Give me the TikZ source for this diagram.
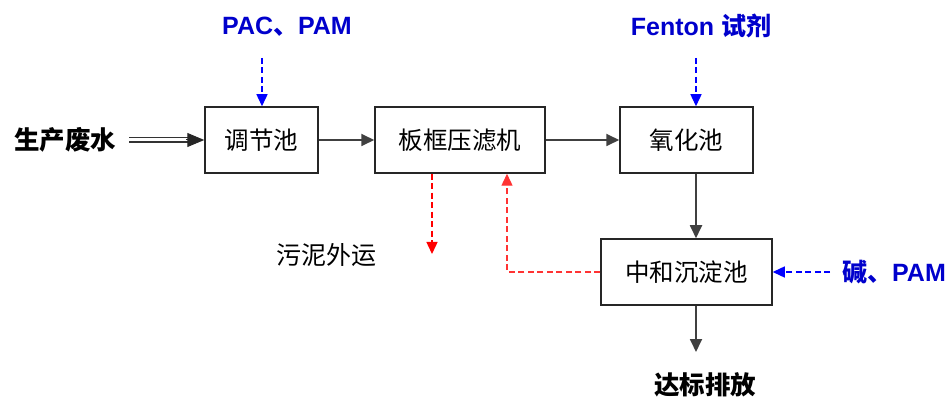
\documentclass[tikz,border=0pt]{standalone}
\usepackage{fontspec}
\setmainfont{Liberation Sans}
\newfontfamily\cjk{Noto Sans CJK SC}
\usetikzlibrary{arrows.meta,calc}
\begin{document}
\begin{tikzpicture}[x=1pt,y=-1pt,
  box/.style={draw=black!85, line width=1.5pt, minimum width=#1, minimum height=66pt, inner sep=0pt, font=\cjk\fontsize{24.5}{25}\selectfont},
  blab/.style={text=blue!80!black, font=\bfseries\fontsize{25}{25}\selectfont},
  klab/.style={text=black, font=\cjk\bfseries\fontsize{25.5}{26}\selectfont},
  flow/.style={draw=black!75, line width=1.8pt, -{Triangle[length=13pt,width=12pt]}},
  bdash/.style={draw=blue, line width=1.4pt, dashed, dash pattern=on 6pt off 3.5pt, -{Triangle[length=12pt,width=11pt]}},
  rdash/.style={draw=red, line width=1.4pt, dashed, dash pattern=on 6pt off 3.5pt, -{Triangle[length=12pt,width=11pt]}}
]
\useasboundingbox (0,0) rectangle (951,398);
\node[box=113pt] (tj) at (261.5,140) {调节池};
\node[box=170pt] (bk) at (460,140) {板框压滤机};
\node[box=133pt] (yh) at (686.5,140) {氧化池};
\node[box=171pt] (zh) at (686.5,272) {中和沉淀池};
\node[klab] (src) at (65,140) {生产废水};
\node[blab] (pac) at (287,27) {PAC{\cjk 、}PAM};
\node[blab] (fen) at (701,26) {Fenton {\cjk 试剂}};
\node[blab] (jian) at (894,272) {{\cjk 碱、}PAM};
\node[font=\cjk\fontsize{25}{25}\selectfont] (wn) at (326,255) {污泥外运};
\node[klab] (db) at (705,385) {达标排放};
\coordinate (pacend) at (262,58);
\coordinate (fenend) at (696,58);
\coordinate (jianend) at (830,272);
\coordinate (wnend) at (432,254);
\coordinate (zhout) at (696,352);
\coordinate (ret) at (507,272);
% double arrow
\draw[black!80, line width=1.2pt, double distance=3pt] ($(tj.west)+(-75,0)$) -- ($(tj.west)+(-16,0)$);
\draw[black!85, line width=1pt, -{Triangle[length=17pt,width=14pt]}] ($(tj.west)+(-18,0)$) -- (tj.west);
\draw[flow] (tj.east) -- (tj.east -| bk.west);
\draw[flow] (bk.east) -- (bk.east -| yh.west);
\draw[flow] (fenend |- yh.south) -- (fenend |- zh.north);
\draw[flow] (fenend |- zh.south) -- (zhout);
\draw[bdash] (pacend) -- (pacend |- tj.north);
\draw[bdash] (fenend) -- (fenend |- yh.north);
\draw[bdash] (jianend) -- (zh.east);
\draw[rdash] (wnend |- bk.south) -- (wnend);
\draw[rdash, draw=red!80!white] (zh.west) -- (ret) -- (ret |- bk.south);
\end{tikzpicture}
\end{document}
